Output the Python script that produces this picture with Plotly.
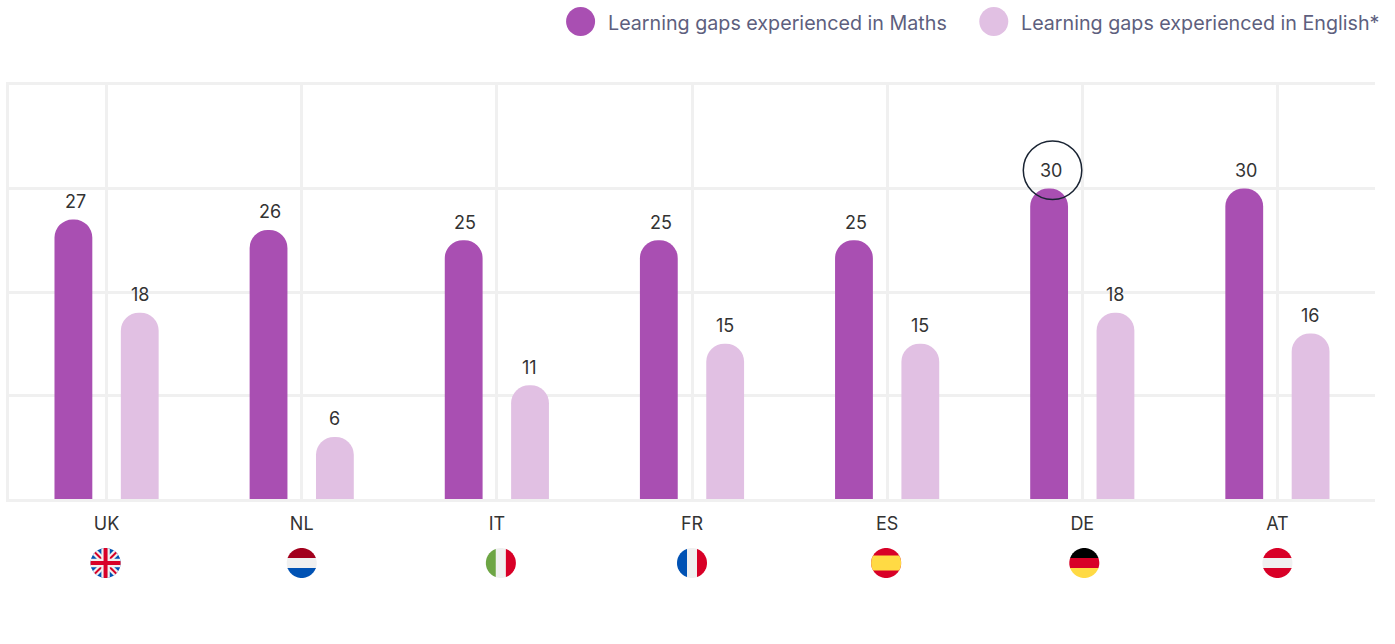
import numpy as np
import plotly.graph_objects as go

countries = ["UK", "NL", "IT", "FR", "ES", "DE", "AT"]
maths = [27, 26, 25, 25, 25, 30, 30]
english = [18, 6, 11, 15, 15, 18, 16]
series_names = ["Learning gaps experienced in Maths", "Learning gaps experienced in English*"]
y_ticks = [0, 10, 20, 30, 40]

PURPLE = "#a94fb2"
LILAC = "#e1c0e3"
GRID = "#f0f0f0"
TEXT = "#333333"
LEGEND_TEXT = "#5e5f7e"
FONT = "Inter"
R = 15
RED = "#d80027"
WHITE = "#f0f0f0"
BLUE = "#0052b4"
ML, MR, MT, MB = 8.5, 19.5, 84.5, 145
W = 1395 - ML - MR

positions = list(range(len(countries)))

fig = go.Figure()
fig.add_bar(x=positions, y=maths, name=series_names[0], marker_color=PURPLE, marker_line_width=0)
fig.add_bar(x=positions, y=english, name=series_names[1], marker_color=LILAC, marker_line_width=0)


def circle_poly(n=72):
    t = np.linspace(0, 2 * np.pi, n, endpoint=False)
    return [(R * np.cos(a), R * np.sin(a)) for a in t]


def clip(poly, a, b, c):
    """Keep the part of poly where a*x + b*y <= c."""
    out = []
    for i, p in enumerate(poly):
        q = poly[(i + 1) % len(poly)]
        dp = a * p[0] + b * p[1] - c
        dq = a * q[0] + b * q[1] - c
        if dp <= 0:
            out.append(p)
        if dp * dq < 0:
            s = dp / (dp - dq)
            out.append((p[0] + s * (q[0] - p[0]), p[1] + s * (q[1] - p[1])))
    return out


def band(a, b, lo, hi):
    return clip(clip(circle_poly(), a, b, hi), -a, -b, -lo)


def hstripes(cols):
    edges = np.linspace(-R, R, len(cols) + 1)
    return [(band(0, 1, edges[len(cols) - i - 1], edges[len(cols) - i]), c) for i, c in enumerate(cols)]


def vstripes(cols):
    edges = np.linspace(-R, R, len(cols) + 1)
    return [(band(1, 0, edges[i], edges[i + 1]), c) for i, c in enumerate(cols)]


s = np.sqrt(0.5)
uk = [
    (circle_poly(), BLUE),
    (band(s, -s, -3.2, 3.2), WHITE),
    (band(s, s, -3.2, 3.2), WHITE),
    (band(s, -s, -1.0, 1.0), RED),
    (band(s, s, -1.0, 1.0), RED),
    (band(1, 0, -4.2, 4.2), WHITE),
    (band(0, 1, -4.2, 4.2), WHITE),
    (band(1, 0, -2.0, 2.0), RED),
    (band(0, 1, -2.0, 2.0), RED),
]
flags = [
    uk,
    hstripes(["#a2001d", WHITE, BLUE]),
    vstripes(["#6da544", WHITE, RED]),
    vstripes([BLUE, WHITE, RED]),
    [(circle_poly(), RED), (band(0, 1, -7.5, 7.5), "#ffda44")],
    hstripes(["#000000", RED, "#ffda44"]),
    hstripes([RED, WHITE, RED]),
]
flag_offsets = [-1, 0, 4, 0, -1, 2, 0]

shapes = []
for i, flag in enumerate(flags):
    for poly, col in flag:
        d = "M" + " L".join(f"{x + flag_offsets[i]:.2f},{y - 64:.2f}" for x, y in poly) + " Z"
        shapes.append(dict(type="path", path=d, xref="x", yref="paper", xsizemode="pixel", ysizemode="pixel",
                           xanchor=i, yanchor=0, fillcolor=col, line_width=0, layer="above"))

# highlight ring round the German maths value
shapes.append(dict(type="circle", xref="x", yref="y", xsizemode="pixel", ysizemode="pixel", xanchor=5, yanchor=30,
                   x0=-59, x1=-0.5, y0=-11, y1=47.5, line=dict(color="#1a2433", width=1.5), fillcolor="rgba(0,0,0,0)",
                   layer="above"))

# legend
for px, col in zip([580.5, 994], [PURPLE, LILAC]):
    shapes.append(dict(type="circle", xref="paper", yref="paper", xsizemode="pixel", ysizemode="pixel",
                       xanchor=(px - ML) / W, yanchor=1, x0=-14.5, x1=14.5, y0=MT - 21 - 14.5, y1=MT - 21 + 14.5,
                       fillcolor=col, line_width=0))

annotations = []
for i, (m, e) in enumerate(zip(maths, english)):
    annotations.append(dict(x=i, y=m, text=str(m), xshift=-31.5, yshift=18, showarrow=False, yanchor="middle",
                            font=dict(family=FONT, size=18, color=TEXT)))
    annotations.append(dict(x=i, y=e, text=str(e), xshift=33, yshift=18, showarrow=False, yanchor="middle",
                            font=dict(family=FONT, size=18, color=TEXT)))
for left, name in zip([608, 1021], series_names):
    annotations.append(dict(xref="paper", yref="paper", x=(left - ML) / W, y=1, yshift=MT - 22, xanchor="left",
                            yanchor="middle", text=name, showarrow=False, xshift=-2,
                            font=dict(family=FONT, size=19.7, color=LEGEND_TEXT)))

fig.update_layout(
    width=1395, height=644,
    margin=dict(l=ML, r=MR, t=MT, b=MB),
    plot_bgcolor="white", paper_bgcolor="white",
    barmode="group", bargap=0.32, bargroupgap=0.43, barcornerradius=18,
    showlegend=False,
    shapes=shapes, annotations=annotations,
    font=dict(family=FONT, color=TEXT),
    xaxis=dict(range=[-0.5, 6.5], tickmode="array", tickvals=positions, ticktext=countries,
               showgrid=True, gridcolor=GRID, gridwidth=2.5, zeroline=False,
               showline=True, linecolor=GRID, linewidth=2.5, mirror=True,
               ticks="outside", ticklen=7, tickcolor="rgba(0,0,0,0)", tickfont=dict(family=FONT, size=18, color=TEXT)),
    yaxis=dict(range=[0, 40], tickmode="array", tickvals=y_ticks, showticklabels=False,
               showgrid=True, gridcolor=GRID, gridwidth=2.5, zeroline=False,
               showline=True, linecolor=GRID, linewidth=2.5, ticks=""),
)

fig.write_html("out.html", config={"displayModeBar": False},
               post_script="document.body.style.margin='0';document.body.style.overflow='hidden';")
